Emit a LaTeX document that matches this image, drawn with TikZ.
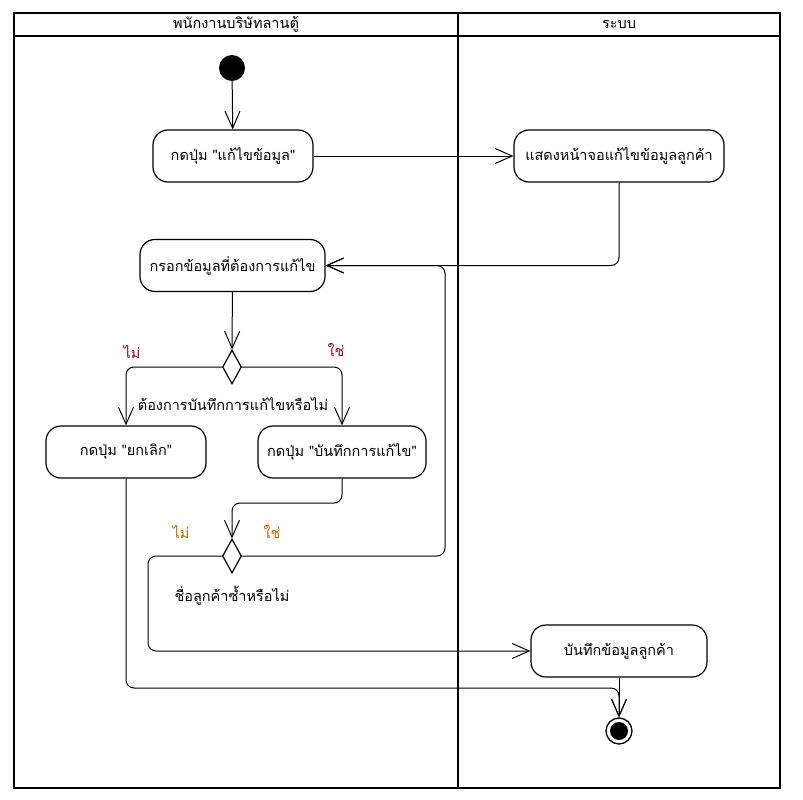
\documentclass[tikz,border=0pt]{standalone}
\usepackage{fontspec}
\newfontfamily\thaifont[Script=Thai]{Loma}
\usetikzlibrary{arrows.meta,shapes.geometric}
\definecolor{nolbl}{HTML}{7F0F1F}
\definecolor{yeslbl}{HTML}{B06A00}
\begin{document}
\begin{tikzpicture}[x=1pt,y=-1pt,
  font=\thaifont\fontsize{14.5}{17}\selectfont,
  lane/.style={line width=2pt},
  act/.style={draw, rectangle, rounded corners=15pt, line width=1.2pt,
    minimum height=52pt, inner sep=0pt},
  dec/.style={draw, diamond, line width=1.2pt, minimum width=19pt,
    minimum height=34pt, inner sep=0pt},
  flow/.style={line width=1pt, rounded corners=8pt,
    -{Straight Barb[length=17pt,width=15pt,line width=1pt]}},
  firstguard/.style={text=nolbl},
  secondguard/.style={text=yeslbl}]
  \useasboundingbox (0,0) rectangle (803,800);
  % swimlanes
  \draw[lane] (14,13) rectangle (780,788);
  \draw[lane] (14,36) -- (780,36);
  \draw[lane] (458,13) -- (458,788);
  \node (laneA) at (236,24) {พนักงานบริษัทลานตู้};
  \node (laneB) at (619,24) {ระบบ};
  % activity nodes
  \node[circle, fill=black, minimum size=26pt, inner sep=0pt] (start) at (232,68) {};
  \node[act, minimum width=160pt] (edit) at (233,156) {กดปุ่ม "แก้ไขข้อมูล"};
  \node[act, minimum width=210pt] (show) at (619,156) {แสดงหน้าจอแก้ไขข้อมูลลูกค้า};
  \node[act, minimum width=185pt] (fill) at (232.5,265.5) {กรอกข้อมูลที่ต้องการแก้ไข};
  \node[dec] (d1) at (232,367) {};
  \node[act, minimum width=160pt] (cancel) at (126,452) {กดปุ่ม "ยกเลิก"};
  \node[act, minimum width=168pt] (save) at (342,452) {กดปุ่ม "บันทึกการแก้ไข"};
  \node[dec] (d2) at (232,556) {};
  \node[act, minimum width=176pt] (store) at (619,651) {บันทึกข้อมูลลูกค้า};
  \node[circle, draw, line width=1.3pt, minimum size=26pt, inner sep=0pt] (stop) at (619,731) {};
  \fill (stop.center) circle (9pt);
  % guard labels and questions
  \node[firstguard] (n1) at (132,352) {ไม่};
  \node[firstguard] (y1) at (336,350) {ใช่};
  \node (q1) at (233,404) {ต้องการบันทึกการแก้ไขหรือไม่};
  \node[secondguard] (n2) at (181,532) {ไม่};
  \node[secondguard] (y2) at (272,532) {ใช่};
  \node (q2) at (232,596) {ชื่อลูกค้าซ้ำหรือไม่};
  % bend points
  \coordinate (saveTurn) at (342,503);
  \coordinate (loopTurn) at (445,556);
  \coordinate (dupTurn) at (148,556);
  \coordinate (cancelTurn) at (126,688);
  % control flow
  \draw[flow] (start) -- (edit);
  \draw[flow] (edit) -- (show);
  \draw[flow] (show.south) |- (fill.east);
  \draw[flow] (fill) -- (d1);
  \draw[flow] (d1.west) -| (cancel.north);
  \draw[flow] (d1.east) -| (save.north);
  \draw[flow] (save.south) -- (saveTurn) -| (d2.north);
  \draw[flow] (d2.east) -- (loopTurn) |- (fill.east);
  \draw[flow] (d2.west) -- (dupTurn) |- (store.west);
  \draw[flow] (cancel.south) -- (cancelTurn) -| (stop.north);
  \draw[flow] (store) -- (stop);
\end{tikzpicture}
\end{document}
